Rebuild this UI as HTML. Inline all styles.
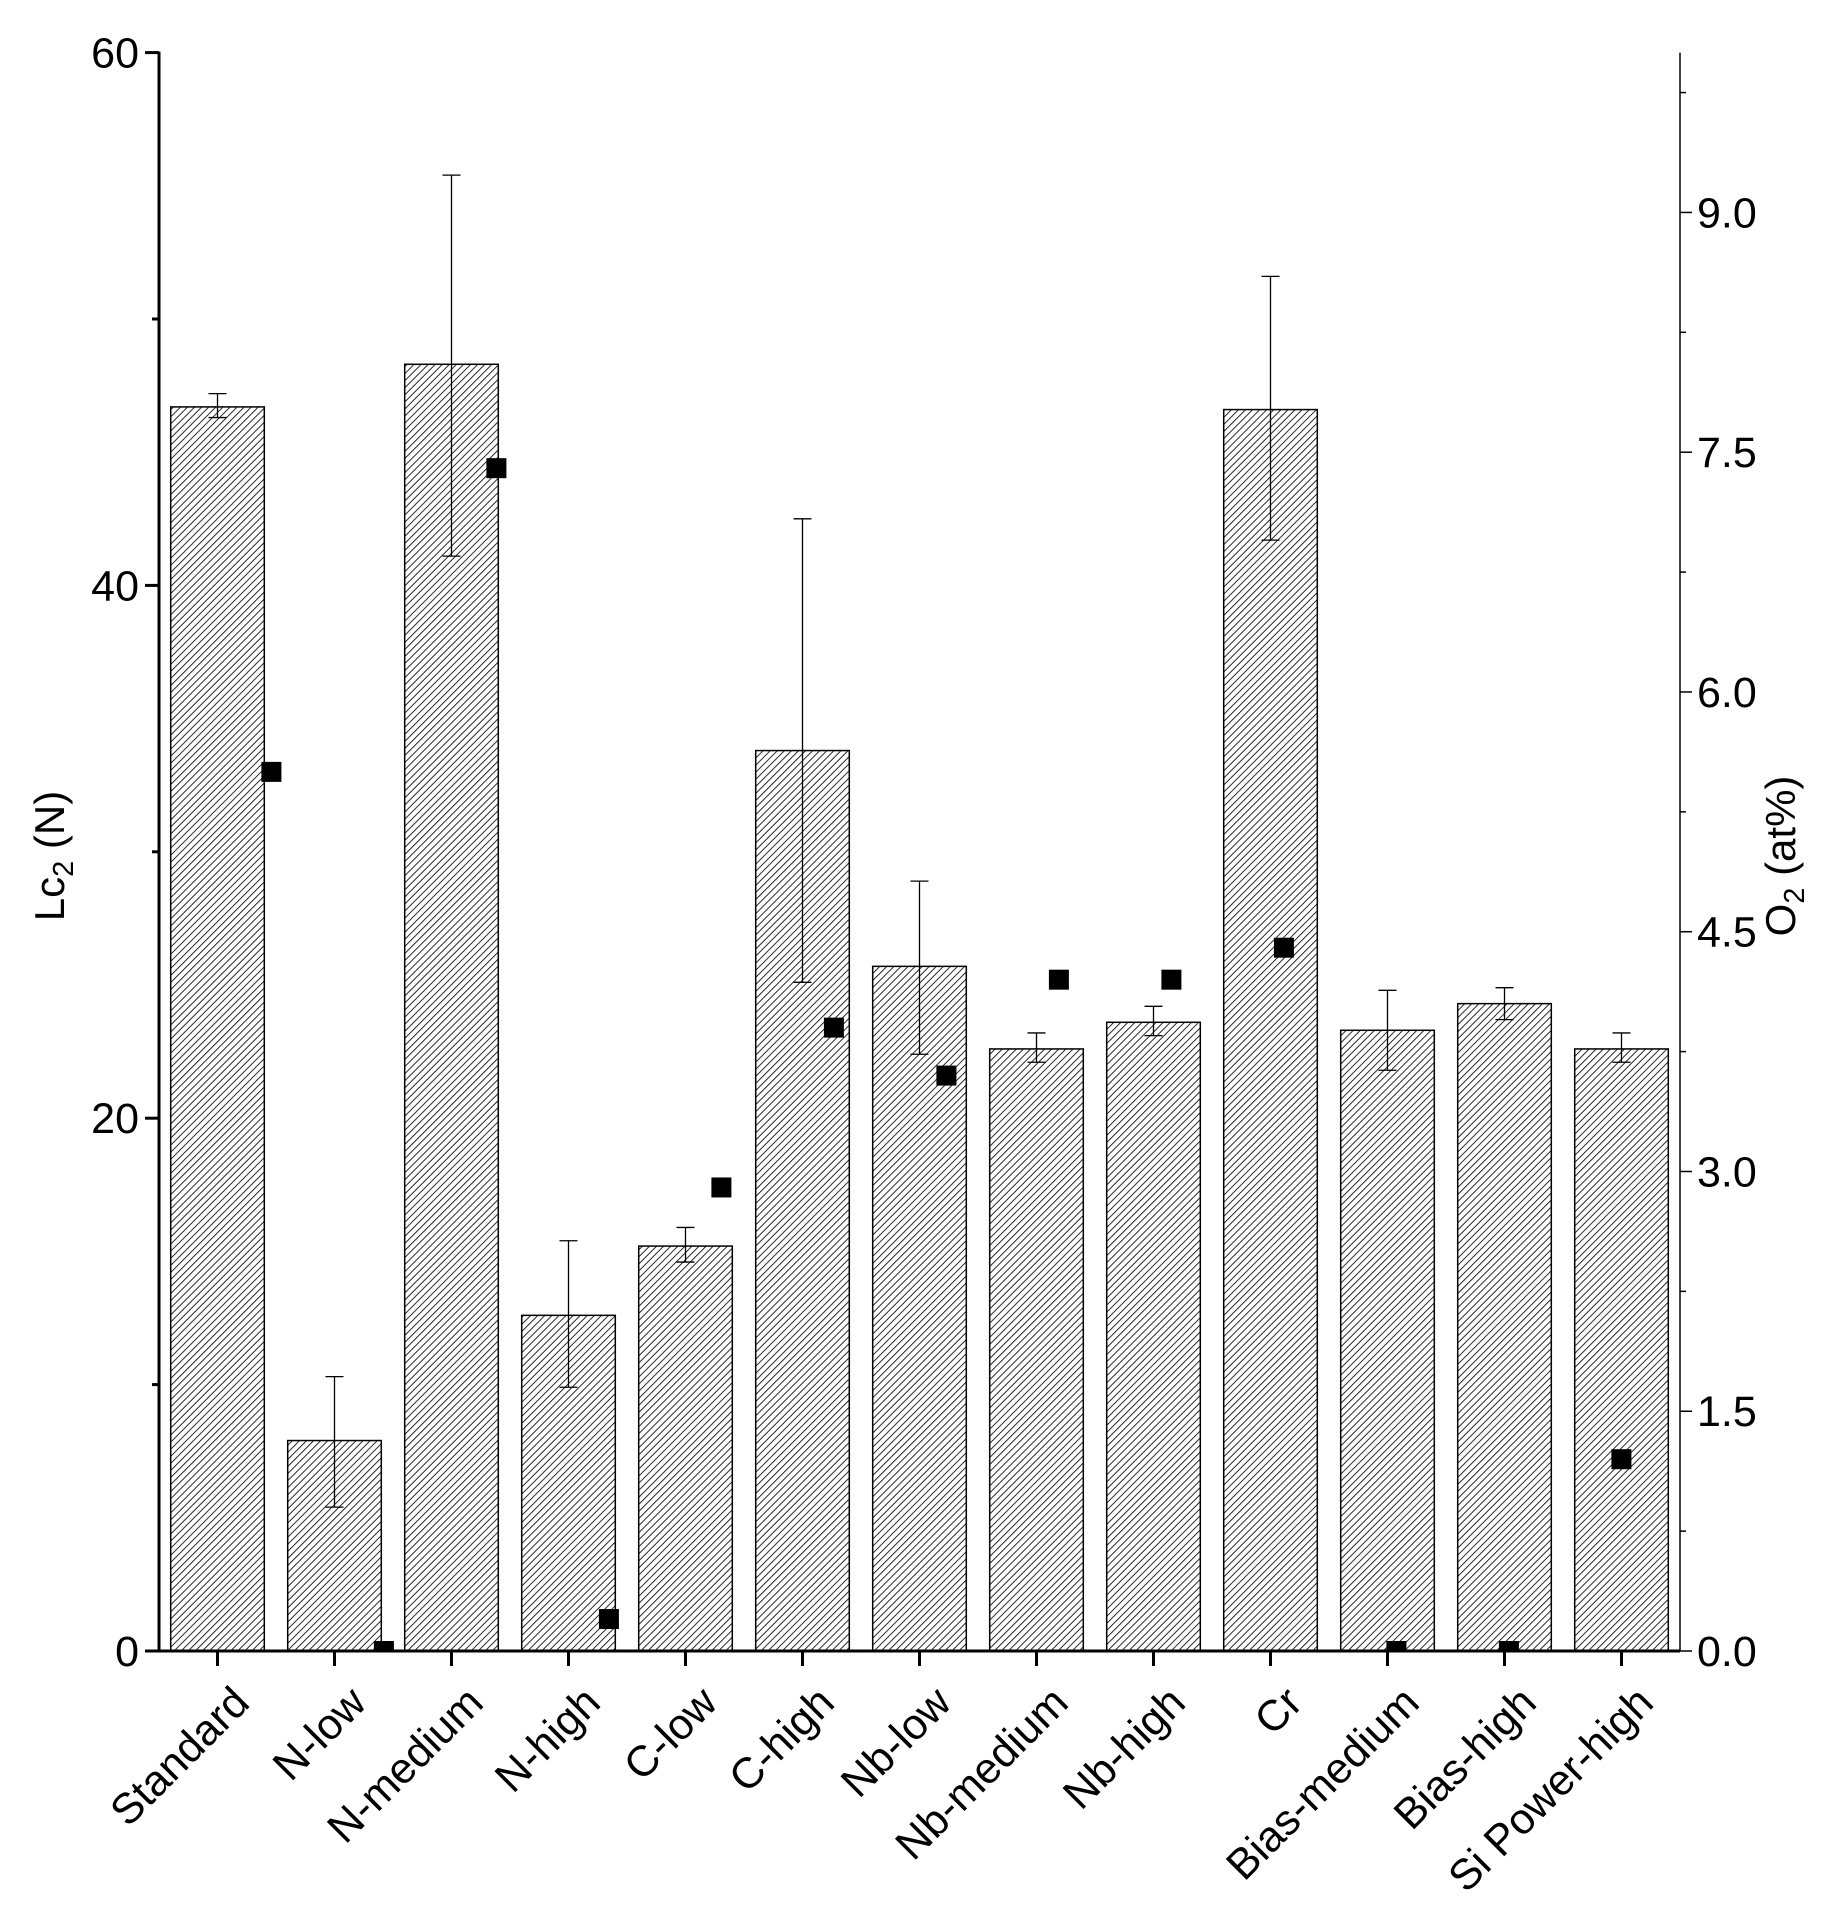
<!DOCTYPE html>
<html><head><meta charset="utf-8">
<style>
html,body{margin:0;padding:0;background:#fff;}
svg{display:block;font-family:"Liberation Sans",Arial,sans-serif;}
</style></head>
<body>
<svg id="chart" width="1834" height="1916" viewBox="0 0 1834 1916" xmlns="http://www.w3.org/2000/svg">
<defs>
<pattern id="hatch" patternUnits="userSpaceOnUse" width="5" height="5" patternTransform="rotate(45)">
<rect width="5" height="5" fill="#fff"/>
<line x1="0" y1="0" x2="0" y2="5" stroke="#111" stroke-width="1.8"/>
</pattern>
<clipPath id="plotclip"><rect x="159" y="40" width="1521" height="1611"/></clipPath>
</defs>
<g id="bars"></g>
<g id="errs"></g>
<g id="marks" clip-path="url(#plotclip)"></g>
<g id="axes"></g>
<text transform="translate(64,856) rotate(-90)" text-anchor="middle" font-size="42">Lc<tspan font-size="29" dy="9">2</tspan><tspan dy="-9"> (N)</tspan></text>
<text transform="translate(1795,856) rotate(-90)" text-anchor="middle" font-size="42">O<tspan font-size="29" dy="9">2</tspan><tspan dy="-9"> (at%)</tspan></text>
</svg>
<script>
const categories = ["Standard","N-low","N-medium","N-high","C-low","C-high","Nb-low","Nb-medium","Nb-high","Cr","Bias-medium","Bias-high","Si Power-high"];
const lc2Values = [46.7,7.9,48.3,12.6,15.2,33.8,25.7,22.6,23.6,46.6,23.3,24.3,22.6];
const lc2ErrHigh = [47.2,10.3,55.4,15.4,15.9,42.5,28.9,23.2,24.2,51.6,24.8,24.9,23.2];
const lc2ErrLow = [46.3,5.4,41.1,9.9,14.6,25.1,22.4,22.1,23.1,41.7,21.8,23.7,22.1];
const o2Values = [5.5,0,7.4,0.2,2.9,3.9,3.6,4.2,4.2,4.4,0,0,1.2];
const leftTicks = [0,20,40,60];
const leftMinor = [10,30,50];
const rightTicks = ["0.0","1.5","3.0","4.5","6.0","7.5","9.0"];
const rightMinor = [0.75,2.25,3.75,5.25,6.75,8.25,9.75];

const NS="http://www.w3.org/2000/svg";
const X0=159,X1=1680,Y0=1651,Ytop=52.6;
const n=categories.length, band=(X1-X0)/n;
function xc(i){return X0+band*(i+0.5);}
function xm(i){return 271.4+112.5*i;}
function yl(v){return Y0-(Y0-Ytop)*v/60;}
function yr(v){return Y0-(Y0-Ytop)*v/10;}
function el(tag,attrs,parent){const e=document.createElementNS(NS,tag);for(const k in attrs)e.setAttribute(k,attrs[k]);parent.appendChild(e);return e;}
const gb=document.getElementById('bars'),ge=document.getElementById('errs'),gm=document.getElementById('marks'),ga=document.getElementById('axes');
const bw=band*0.8;
for(let i=0;i<n;i++){
  const r=el('rect',{x:xc(i)-bw/2,y:yl(lc2Values[i]),width:bw,height:Y0-yl(lc2Values[i]),fill:'url(#hatch)',stroke:'#000','stroke-width':1.5},gb);
  
  
  const g=el('g',{stroke:'#000','stroke-width':1.3},ge);
  
  
  const x=xc(i),h=yl(lc2ErrHigh[i]),l=yl(lc2ErrLow[i]);
  el('line',{x1:x,y1:h,x2:x,y2:l},g);
  el('line',{x1:x-9,y1:h,x2:x+9,y2:h},g);
  el('line',{x1:x-9,y1:l,x2:x+9,y2:l},g);
  const m=el('rect',{x:xm(i)-10,y:yr(o2Values[i])-10,width:20,height:20,fill:'#000'},gm);
  
  
}
el('line',{x1:X0,y1:Ytop-1,x2:X0,y2:Y0+1.5,stroke:'#000','stroke-width':3},ga);
el('line',{x1:X0,y1:Y0,x2:X1,y2:Y0,stroke:'#000','stroke-width':3},ga);
el('line',{x1:X1,y1:Ytop,x2:X1,y2:Y0,stroke:'#000','stroke-width':1.5},ga);
leftTicks.forEach(v=>{
  el('line',{x1:X0-14,y1:yl(v),x2:X0,y2:yl(v),stroke:'#000','stroke-width':3},ga);
  const t=el('text',{x:X0-20,y:yl(v)+15,'text-anchor':'end','font-size':43},ga);
  t.textContent=v;
  
  
});
leftMinor.forEach(v=>{el('line',{x1:X0-7,y1:yl(v),x2:X0,y2:yl(v),stroke:'#000','stroke-width':3},ga);});
rightTicks.forEach(s=>{
  const v=parseFloat(s);
  el('line',{x1:X1,y1:yr(v),x2:X1+12,y2:yr(v),stroke:'#000','stroke-width':1.5},ga);
  const t=el('text',{x:X1+17,y:yr(v)+15,'font-size':43},ga);
  t.textContent=s;
  
  
});
rightMinor.forEach(v=>{el('line',{x1:X1,y1:yr(v),x2:X1+6,y2:yr(v),stroke:'#000','stroke-width':1.5},ga);});
categories.forEach((c,i)=>{
  el('line',{x1:xc(i),y1:Y0,x2:xc(i),y2:Y0+15,stroke:'#000','stroke-width':3},ga);
  const t=el('text',{transform:'translate('+(xc(i)+34)+','+(Y0+54)+') rotate(-45)','text-anchor':'end','font-size':43},ga);
  t.textContent=c;
  
  
});
</script>
</body></html>
